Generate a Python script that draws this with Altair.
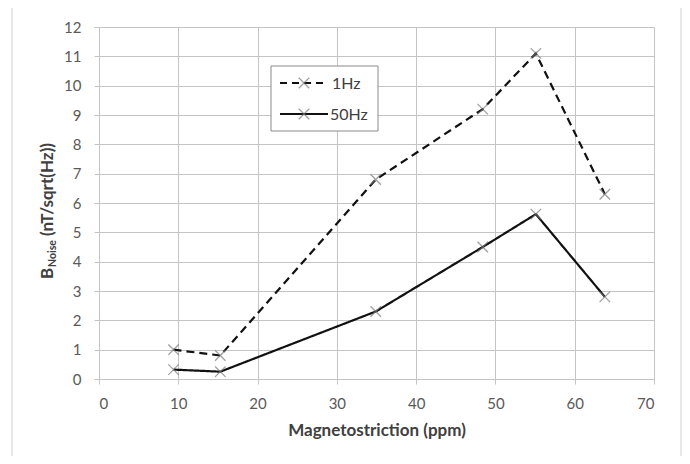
import altair as alt
import pandas as pd

# ---- data ----
magnetostriction = [9.4, 15.3, 34.9, 48.4, 55.1, 63.8]
noise_1hz = [1.0, 0.8, 6.8, 9.2, 11.1, 6.3]
noise_50hz = [0.32, 0.25, 2.3, 4.5, 5.62, 2.8]
series_names = ["1Hz", "50Hz"]
x_ticks = [0, 10, 20, 30, 40, 50, 60, 70]
y_ticks = list(range(0, 13))
x_title = "Magnetostriction (ppm)"
y_title_main = "B"
y_title_sub = "Noise"
y_title_rest = "(nT/sqrt(Hz))"

df = pd.DataFrame({
    "x": magnetostriction + magnetostriction,
    "y": noise_1hz + noise_50hz,
    "series": [series_names[0]] * len(noise_1hz) + [series_names[1]] * len(noise_50hz),
    "order": list(range(len(noise_1hz))) + list(range(len(noise_50hz))),
})

FONT = "Lato"
GRID = "#c4c4c4"
X_PATH = "M-1,-1L1,1M-1,1L1,-1"

xscale = alt.Scale(domain=[0, 70], nice=False, zero=False)
yscale = alt.Scale(domain=[0, 12], nice=False)

x_enc = alt.X("x:Q", scale=xscale, axis=alt.Axis(
    values=x_ticks, title=x_title, grid=True, gridColor=GRID, domainColor=GRID,
    tickColor=GRID, tickSize=5, labelFont=FONT, labelFontSize=15, labelColor="#595959",
    labelPadding=12, labelOverlap=False, titleFont=FONT, titleFontSize=17, titleFontWeight="bold",
    titleColor="#404040", titlePadding=11))
y_enc = alt.Y("y:Q", scale=yscale, axis=alt.Axis(
    values=y_ticks, title=None, grid=True, gridColor=GRID, domainColor=GRID,
    tickColor=GRID, tickSize=5, labelFont=FONT, labelFontSize=15, labelColor="#595959",
    labelPadding=13, labelOverlap=False))

base = alt.Chart(df)

lines = base.mark_line(color="#111111", strokeWidth=2.2).encode(
    x=x_enc, y=y_enc,
    strokeDash=alt.StrokeDash("series:N", scale=alt.Scale(domain=series_names, range=[[8, 5], [1, 0]]), legend=None),
    detail="series:N",
    order="order:Q",
)

points = base.mark_point(shape=X_PATH, filled=False, stroke="#7a7a7a", strokeWidth=1.3, size=110).encode(
    x=x_enc, y=y_enc,
)

one = alt.Data(values=[{"k": 0}])

# outer border of the chart
border = alt.Chart(one).mark_rect(fill="transparent", stroke="#d0d0d0", strokeWidth=1).encode(
    x=alt.value(-87), x2=alt.value(582), y=alt.value(-21), y2=alt.value(445))

# legend box
leg_box = alt.Chart(one).mark_rect(fill="white", stroke="#8a8a8a", strokeWidth=1).encode(
    x=alt.value(172), x2=alt.value(279), y=alt.value(39), y2=alt.value(104))
leg_l1 = alt.Chart(one).mark_rule(color="#111111", strokeWidth=2.2, strokeDash=[7, 5]).encode(
    x=alt.value(181), x2=alt.value(229), y=alt.value(56))
leg_l2 = alt.Chart(one).mark_rule(color="#111111", strokeWidth=2.2).encode(
    x=alt.value(181), x2=alt.value(229), y=alt.value(87))
leg_p1 = alt.Chart(one).mark_point(shape=X_PATH, filled=False, stroke="#7a7a7a", strokeWidth=1.3, size=110).encode(
    x=alt.value(205), y=alt.value(56))
leg_p2 = alt.Chart(one).mark_point(shape=X_PATH, filled=False, stroke="#7a7a7a", strokeWidth=1.3, size=110).encode(
    x=alt.value(205), y=alt.value(87))
leg_t1 = alt.Chart(one).mark_text(text=series_names[0], font=FONT, fontSize=16, color="#404040",
                                   align="left", baseline="middle").encode(x=alt.value(233), y=alt.value(57))
leg_t2 = alt.Chart(one).mark_text(text=series_names[1], font=FONT, fontSize=16, color="#404040",
                                   align="left", baseline="middle").encode(x=alt.value(231), y=alt.value(88))

# y-axis title with subscript
yt_main = alt.Chart(one).mark_text(text=y_title_main, font=FONT, fontSize=17, fontWeight="bold", color="#404040",
                                   align="left", baseline="alphabetic", angle=270).encode(
    x=alt.value(-46), y=alt.value(252))
yt_sub = alt.Chart(one).mark_text(text=y_title_sub, font=FONT, fontSize=10.5, fontWeight="bold", color="#404040",
                                  align="left", baseline="alphabetic", angle=270).encode(
    x=alt.value(-43), y=alt.value(240))
yt_rest = alt.Chart(one).mark_text(text=y_title_rest, font=FONT, fontSize=17, fontWeight="bold", color="#404040",
                                   align="left", baseline="alphabetic", angle=270).encode(
    x=alt.value(-46), y=alt.value(209))

chart = alt.layer(
    border, lines, points, leg_box, leg_l1, leg_l2, leg_p1, leg_p2, leg_t1, leg_t2,
    yt_main, yt_sub, yt_rest,
).properties(
    width=555, height=352,
    autosize=alt.AutoSizeParams(type="none"),
    padding={"left": 91, "top": 19, "right": 28, "bottom": 77},
    background="white",
).configure_view(stroke=None)

chart.save("out.html", embed_options={"renderer": "svg", "actions": False})
